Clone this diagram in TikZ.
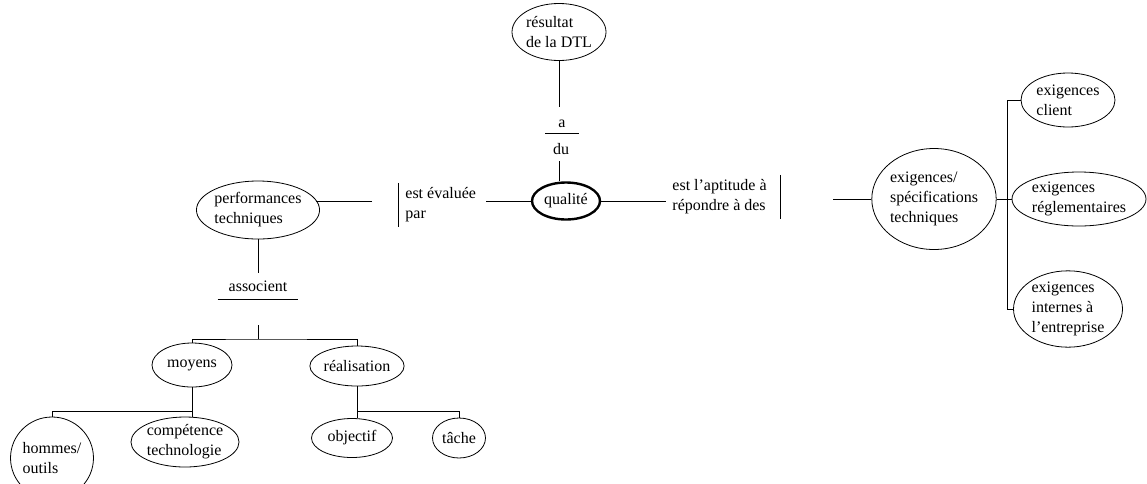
\documentclass[tikz,border=0pt]{standalone}
\usepackage{fontspec}
\setmainfont{Liberation Serif}
\usetikzlibrary{shapes.geometric}

\begin{document}
\begin{tikzpicture}[x=1pt,y=-1pt,line width=0.8pt,
  concept/.style={draw,ellipse,inner sep=0pt,align=left,line width=0.8pt,font=\fontsize{16}{20}\selectfont},
  lien/.style={inner sep=0pt,align=left,font=\fontsize{16}{20}\selectfont}]
\useasboundingbox (0,0) rectangle (1147,483);
\clip (0,0) rectangle (1147,483);

\node[concept,minimum width=94pt,minimum height=57pt] (res) at (559,32) {résultat\\de la DTL};
\node[lien,anchor=base,minimum width=33pt,inner ysep=6pt] (lbla) at (562,127) {a};
\node[lien,anchor=base] (lbldu) at (561,154) {du};
\node[concept,line width=2.4pt,minimum width=68pt,minimum height=37pt] (qual) at (566,201) {qualité};
\coordinate (ja) at (559,107);
\coordinate (jdu) at (559,161);
\draw (res.south) -- (ja);
\draw (lbla.south west) -- (lbla.south east);
\draw (jdu) -- (jdu |- qual.north);

\node[lien,anchor=west,inner xsep=7pt,inner ysep=4.5pt] (lbleval) at (398,205) {est évaluée\\par};
\node[concept,minimum width=121pt,minimum height=58pt] (perf) at (258,210) {performances\\techniques};
\coordinate (jeval) at (486,201);
\coordinate (jperf) at (372,201);
\draw (qual.west) -- (jeval);
\draw (lbleval.north west) -- (lbleval.south west);
\draw (jperf) -- (jperf -| perf.10);

\node[lien,anchor=base,minimum width=80pt,inner ysep=8pt] (lblass) at (258,291) {associent};
\coordinate (jass) at (258,273);
\coordinate (jtree) at (258,325);
\coordinate (jfork) at (258,339);
\draw (perf.south) -- (jass);
\draw (lblass.south west) -- (lblass.south east);
\draw (jtree) -- (jfork);

\node[concept,minimum width=80pt,minimum height=44pt] (moy) at (192,365) {moyens};
\node[concept,minimum width=93pt,minimum height=40pt] (real) at (357,366) {réalisation};
\node[concept,minimum width=80pt,minimum height=82pt] (hom) at (52,458) {hommes/\\outils};
\node[concept,minimum width=106pt,minimum height=50pt] (comp) at (185,442) {compétence\\technologie};
\node[concept,minimum width=81pt,minimum height=39pt] (obj) at (352,438) {objectif};
\node[concept,minimum width=53pt,minimum height=40pt] (tac) at (459,438) {tâche};
\coordinate (jmoy) at (192,411);
\coordinate (jreal) at (357,411);
\draw (moy.north) |- (jfork) -| (real.north);
\draw (moy.south) -- (moy.south |- comp.north);
\draw (real.south) -- (real.south |- obj.north);
\draw (jmoy) -| (hom.north);
\draw (jreal) -| (tac.north);

\node[lien,anchor=east,inner xsep=13pt,inner ysep=4.5pt] (lblapt) at (780,197) {est l'aptitude à\\répondre à des};
\node[concept,minimum width=122pt,minimum height=101pt] (exig) at (934,199) {exigences/\\spécifications\\techniques};
\node[concept,minimum width=94pt,minimum height=54pt] (cli) at (1068,100) {exigences\\client};
\node[concept,minimum width=134pt,minimum height=54pt] (regl) at (1079,199) {exigences\\réglementaires};
\node[concept,minimum width=109pt,minimum height=72pt] (intern) at (1068,309) {exigences\\internes à\\l'entreprise};
\coordinate (japt) at (666,201);
\coordinate (jexig) at (833,199);
\coordinate (jexr) at (1007,199);
\draw (qual.east) -- (japt);
\draw (lblapt.north east) -- (lblapt.south east);
\draw (jexig) -- (exig.west);
\draw (exig.east) -- (regl.west);
\draw (cli.west) -| (jexr) |- (intern.west);
\end{tikzpicture}
\end{document}
